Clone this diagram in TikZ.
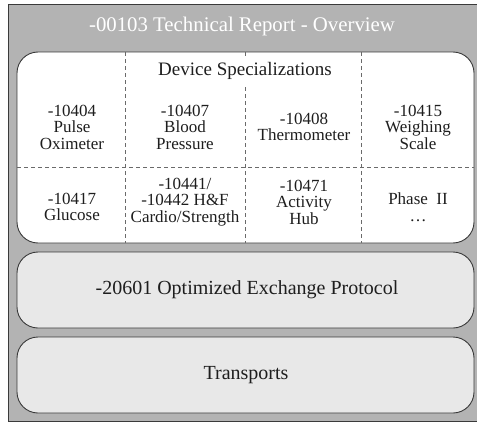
\documentclass[tikz,border=0pt]{standalone}
\usepackage{fontspec}
\setmainfont{Liberation Serif}
\definecolor{framegray}{HTML}{B3B3B3}
\definecolor{layerfill}{HTML}{E8E8E8}
\definecolor{edgecol}{HTML}{3A3A3A}
\definecolor{inkcol}{HTML}{1E1E1E}
\definecolor{dashcol}{HTML}{6A6A6A}
\tikzset{
  layerbox/.style={draw=edgecol, line width=0.9pt, rounded corners=21pt},
  divider/.style={draw=dashcol, line width=0.8pt, dash pattern=on 4pt off 3pt},
  cell/.style={align=center, text=inkcol, inner sep=0pt,
    font=\fontsize{17}{16.5}\selectfont},
  biglabel/.style={text=inkcol, inner sep=0pt, font=\fontsize{20}{21}\selectfont},
}
\begin{document}
\begin{tikzpicture}[x=1pt,y=-1pt]
\useasboundingbox (0,0) rectangle (477,423);
% outer frame
\draw[fill=framegray, draw=edgecol, line width=1pt] (8,4) rectangle (480,421.5);
\node[text=white, inner sep=0pt, font=\fontsize{20.8}{22}\selectfont] (title) at (242,26) {-00103 Technical Report - Overview};

% device specialisation layer
\draw[layerbox, fill=white] (17,52) rectangle (474,243);
\draw[divider] (125,52) -- (125,243);
\draw[divider] (245,52) -- (245,243);
\draw[divider] (361,52) -- (361,243);
\draw[divider] (17,167) -- (474,167);
\node[biglabel, fill=white, inner sep=4pt, font=\fontsize{19}{20}\selectfont] (spec) at (245,71) {Device Specializations};

\node[cell] (c1) at (72,127) {-10404\\Pulse\\Oximeter};
\node[cell] (c2) at (185,127) {-10407\\Blood\\Pressure};
\node[cell] (c3) at (304,127) {-10408\\Thermometer};
\node[cell] (c4) at (418,127) {-10415\\Weighing\\Scale};
\node[cell] (c5) at (72,207) {-10417\\Glucose};
\node[cell] (c6) at (185,202) {-10441/\\-10442 H\&F\\Cardio/Strength};
\node[cell] (c7) at (304,202) {-10471\\Activity\\Hub};
\node[cell] (c8) at (418,207) {Phase\ \ II\\\ldots};

% protocol and transport layers
\draw[layerbox, fill=layerfill] (17,252) rectangle (474,328);
\node[biglabel] (proto) at (247,290) {-20601 Optimized Exchange Protocol};
\draw[layerbox, fill=layerfill] (17,337) rectangle (474,413);
\node[biglabel] (trans) at (246,375) {Transports};
\end{tikzpicture}
\end{document}
